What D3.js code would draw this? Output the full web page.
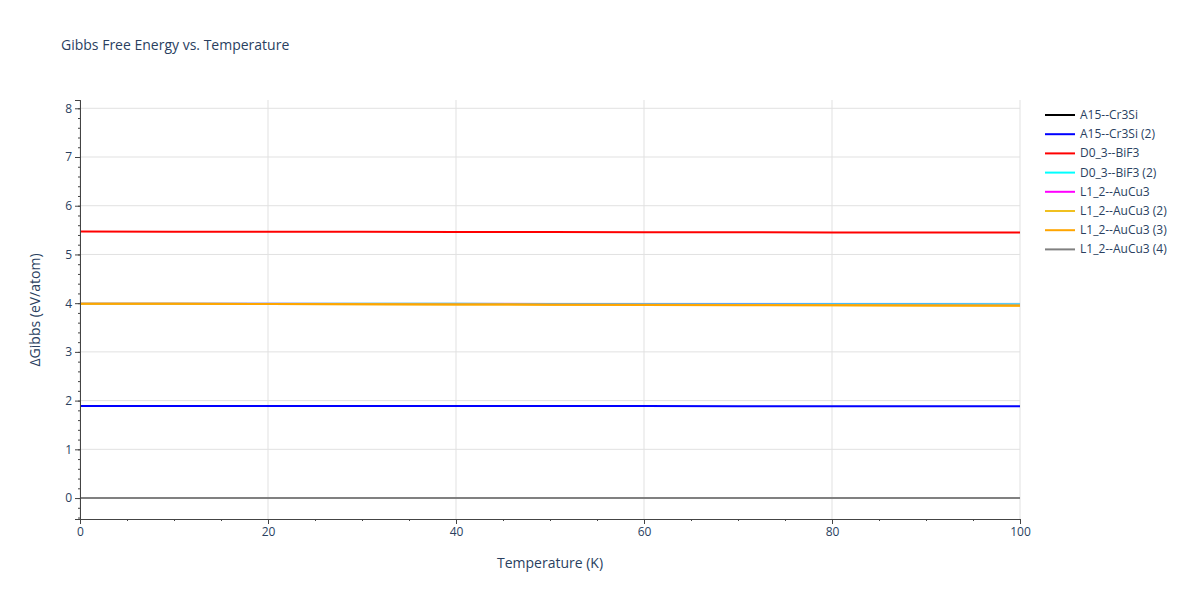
<!DOCTYPE html><html><head><meta charset="utf-8"><script src="https://cdn.jsdelivr.net/npm/d3@7"></script>
<style>body{margin:0;background:#fff;font-family:"Open Sans",sans-serif}</style></head><body><svg id="c" width="1200" height="600"></svg>
<script>
const temps=[0,10,20,30,40,50,60,70,80,90,100];
const seriesNames=["A15--Cr3Si","A15--Cr3Si (2)","D0_3--BiF3","D0_3--BiF3 (2)","L1_2--AuCu3","L1_2--AuCu3 (2)","L1_2--AuCu3 (3)","L1_2--AuCu3 (4)"];
const seriesColors=["#000000","#0000ff","#ff0000","#00ffff","#ff00ff","#f0c020","#ffa500","#808080"];
const seriesOpacity=[1,1,1,1,0.35,1,1,1];
const a15=[0,0,0,0,0,0,0,0,0,0,0];
const a15b=[1.89,1.89,1.89,1.89,1.89,1.888,1.887,1.886,1.885,1.884,1.883];
const d03=[5.47,5.468,5.466,5.464,5.462,5.459,5.457,5.455,5.453,5.451,5.449];
const d03b=[3.99,3.989,3.988,3.987,3.986,3.985,3.984,3.983,3.982,3.981,3.98];
const l12=[3.995,3.993,3.991,3.989,3.987,3.985,3.983,3.981,3.979,3.977,3.975];
const l12b=[3.99,3.986,3.982,3.978,3.974,3.97,3.966,3.962,3.958,3.954,3.95];
const l12c=[3.99,3.986,3.982,3.978,3.973,3.968,3.963,3.959,3.955,3.951,3.947];
const l12d=[0,0,0,0,0,0,0,0,0,0,0];
const values=[a15,a15b,d03,d03b,l12,l12b,l12c,l12d];
const xTicks=[0,20,40,60,80,100], yTicks=[0,1,2,3,4,5,6,7,8];
const svg=d3.select("#c");
const L=80,R=1020,T=100,B=519;
const x=d3.scaleLinear().domain([0,100]).range([L,R]);
const y=d3.scaleLinear().domain([-0.43,8.17]).range([B,T]);
const col="#2a3f5f";
svg.append("text").attr("x",61).attr("y",50).text("Gibbs Free Energy vs. Temperature").attr("font-size",14).attr("fill",col);
const g=svg.append("g");
xTicks.forEach(t=>g.append("line").attr("x1",x(t)).attr("x2",x(t)).attr("y1",T).attr("y2",B).attr("stroke","#e1e1e1"));
yTicks.forEach(t=>g.append("line").attr("x1",L).attr("x2",R).attr("y1",y(t)).attr("y2",y(t)).attr("stroke","#e1e1e1"));
const line=d3.line().x((d,i)=>x(temps[i])).y(d=>y(d));
values.forEach((v,i)=>svg.append("path").datum(v).attr("d",line).attr("fill","none").attr("stroke",seriesColors[i]).attr("stroke-opacity",seriesOpacity[i]).attr("stroke-width",2));
const xa=svg.append("g").attr("transform",`translate(0,${B})`).call(d3.axisBottom(x).tickValues(xTicks).tickSize(5));
const xm=svg.append("g").attr("transform",`translate(0,${B})`).call(d3.axisBottom(x).tickValues(d3.range(0,101,5)).tickSize(2).tickFormat(""));
const ya=svg.append("g").attr("transform",`translate(${L},0)`).call(d3.axisLeft(y).tickValues(yTicks).tickSize(5));
const ym=svg.append("g").attr("transform",`translate(${L},0)`).call(d3.axisLeft(y).tickValues(d3.range(-0.4,8.1,0.2)).tickSize(2).tickFormat(""));
[xa,xm,ya,ym].forEach(a=>{a.selectAll("path,line").attr("stroke","#444");a.selectAll("text").attr("fill",col).attr("font-size",12).attr("font-family","Open Sans");});
svg.append("text").attr("x",550).attr("y",568).attr("text-anchor","middle").text("Temperature (K)").attr("font-size",14).attr("fill",col);
svg.append("text").attr("transform","translate(40,310) rotate(-90)").attr("text-anchor","middle").text("ΔGibbs (eV/atom)").attr("font-size",14).attr("fill",col);
seriesNames.forEach((n,i)=>{const yy=115+i*19.2;
svg.append("line").attr("x1",1045).attr("x2",1075).attr("y1",yy).attr("y2",yy).attr("stroke",seriesColors[i]).attr("stroke-width",2);
svg.append("text").attr("x",1080).attr("y",yy+4).text(n).attr("font-size",12).attr("fill",col);});
</script></body></html>
